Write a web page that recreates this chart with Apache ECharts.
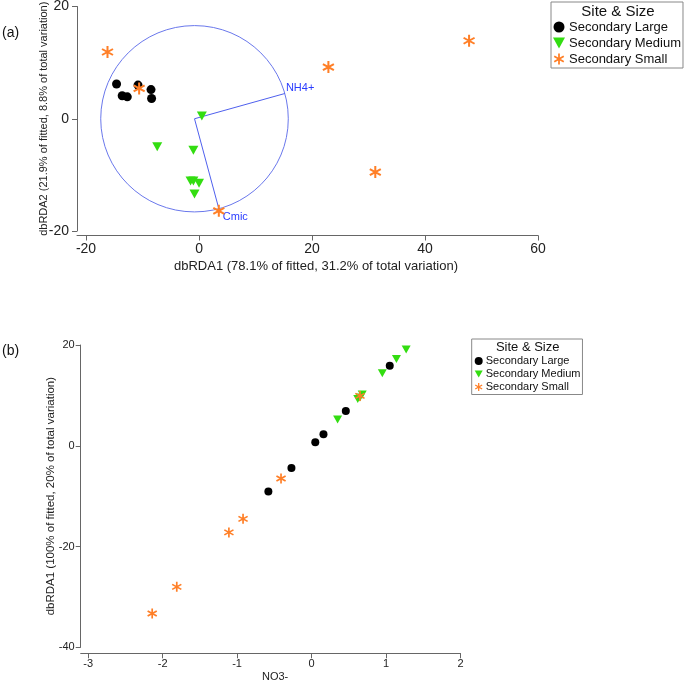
<!DOCTYPE html>
<html>
<head>
<meta charset="utf-8">
<script src="https://cdn.jsdelivr.net/npm/echarts@6/dist/echarts.min.js"></script>
<style>
html,body{margin:0;padding:0;background:#fff;}
#c{width:685px;height:681px;}
</style>
</head>
<body>
<div id="c"></div>
<script>
// ---------- data ----------
var seriesNames = ['Secondary Large', 'Secondary Medium', 'Secondary Small'];

// (a) dbRDA ordination
var aLarge  = [[-14.6, 6.2], [-13.6, 4.1], [-12.7, 3.9], [-10.8, 6.0], [-8.5, 5.2], [-8.4, 3.6]];
var aMedium = [[0.5, 0.5], [-7.4, -5.0], [-1.0, -5.6], [-1.5, -11.1], [-1.0, -11.1], [0.0, -11.5], [-0.8, -13.4]];
var aSmall  = [[-16.2, 11.9], [-10.6, 5.4], [22.9, 9.2], [47.8, 13.9], [31.2, -9.5], [3.5, -16.4]];
var circleCenter = [-0.8, 0];
var circleRadius = 16.6;
var vectorNames = ['NH4+', 'Cmic'];
var vectorEnds = [[15.2, 4.5], [3.5, -16.0]];
var aXTicks = [-20, 0, 20, 40, 60];

// (b) dbRDA1 vs NO3-
var bLarge  = [[-0.58, -9.1], [-0.27, -4.4], [0.05, 0.7], [0.16, 2.3], [0.46, 6.9], [1.05, 15.9]];
var bMedium = [[0.35, 5.2], [0.62, 9.3], [0.68, 10.2], [0.95, 14.4], [1.14, 17.2], [1.27, 19.1], [0.65, 9.6]];
var bSmall  = [[-2.14, -33.3], [-1.81, -28.0], [-1.11, -17.2], [-0.92, -14.5], [-0.41, -6.5], [0.65, 9.9]];
var bXTicks = [-3, -2, -1, 0, 1, 2];

// ---------- styles ----------
var FONT = 'Liberation Sans, Arial, sans-serif';
var cBlack = '#000000', cGreen = '#33dd11', cOrange = '#ff7f27';
var triDown = 'path://M0,0 L100,0 L50,90 Z';
var star = 'path://M42,0 L58,0 L58,100 L42,100 Z M10.7,18.07 L97.3,68.07 L89.3,81.93 L2.7,31.93 Z M2.7,68.07 L89.3,18.07 L97.3,31.93 L10.7,81.93 Z';
var axisCol = '#666';
var labelCol = '#222';

function mkX(idx, min, max, ticks, name, fs, nameGap, nameFs, offset, margin, padL) {
  return {
    type: 'value', gridIndex: idx, min: min, max: max, offset: offset,
    name: name, nameLocation: 'middle', nameGap: nameGap, nameMoveOverlap: false,
    nameTextStyle: {fontFamily: FONT, fontSize: nameFs, color: labelCol, padding: [0, 0, 0, padL]},
    axisLine: {show: true, onZero: false, lineStyle: {color: axisCol, width: 1}},
    axisTick: {show: true, length: 5, customValues: ticks, lineStyle: {color: axisCol}},
    axisLabel: {customValues: ticks, fontFamily: FONT, fontSize: fs, color: labelCol, margin: margin},
    splitLine: {show: false}
  };
}
function mkY(idx, min, max, interval, name, fs, nameGap, nameFs, margin) {
  return {
    type: 'value', gridIndex: idx, min: min, max: max, interval: interval,
    name: name, nameLocation: 'middle', nameGap: nameGap, nameMoveOverlap: false,
    nameTextStyle: {fontFamily: FONT, fontSize: nameFs, color: labelCol},
    axisLine: {show: true, onZero: false, lineStyle: {color: axisCol, width: 1}},
    axisTick: {show: true, length: 5, lineStyle: {color: axisCol}},
    axisLabel: {fontFamily: FONT, fontSize: fs, color: labelCol, margin: margin},
    splitLine: {show: false}
  };
}
function scatter(name, data, gi, symbol, size, color) {
  return {
    name: name, type: 'scatter', xAxisIndex: gi, yAxisIndex: gi,
    data: data, symbol: symbol, symbolSize: size,
    itemStyle: {color: color, opacity: 1}, z: 5
  };
}

var chart = echarts.init(document.getElementById('c'), null, {renderer: 'canvas'});

var option = {
  backgroundColor: '#fff',
  animation: false,
  grid: [
    {left: 77, right: 147, top: 6.5, bottom: 450, outerBoundsMode: 'none', containLabel: false},
    {left: 80.7, right: 224.5, top: 345, bottom: 33.7, outerBoundsMode: 'none', containLabel: false}
  ],
  xAxis: [
    mkX(0, -21.6, 60, aXTicks, 'dbRDA1 (78.1% of fitted, 31.2% of total variation)', 14, 24, 13, 4.5, 7, 17),
    mkX(1, -3.1, 2, bXTicks, 'NO3-', 11, 18, 11, 6, 5, 9)
  ],
  yAxis: [
    mkY(0, -20, 20, 20, 'dbRDA2 (21.9% of fitted, 8.8% of total variation)', 14, 28, 11, 8),
    mkY(1, -40, 20, 20, 'dbRDA1 (100% of fitted, 20% of total variation)', 11, 24, 11.5, 6)
  ],
  legend: [
    {
      left: 551, top: 2, orient: 'vertical',
      padding: [17, 2, 1, 2], itemGap: 0, itemWidth: 12, itemHeight: 11,
      borderColor: '#888', borderWidth: 1, backgroundColor: '#fff',
      textStyle: {fontFamily: FONT, fontSize: 13, color: '#111', lineHeight: 16, padding: [0, 0, 0, -1]},
      selectedMode: false,
      data: [
        {name: seriesNames[0], icon: 'circle'},
        {name: seriesNames[1], icon: triDown},
        {name: seriesNames[2], icon: star}
      ]
    },
    {
      left: 471.7, top: 339, orient: 'vertical',
      padding: [15.5, 2, 1, 3], itemGap: 0, itemWidth: 8, itemHeight: 8,
      borderColor: '#888', borderWidth: 1, backgroundColor: '#fff',
      textStyle: {fontFamily: FONT, fontSize: 11, color: '#111', lineHeight: 13, padding: [0, 0, 0, -2]},
      selectedMode: false,
      data: [
        {name: seriesNames[0], icon: 'circle'},
        {name: seriesNames[1], icon: triDown},
        {name: seriesNames[2], icon: star}
      ]
    }
  ],
  graphic: [
    {type: 'text', left: 2, top: 26, style: {text: '(a)', font: '14px ' + FONT, fill: '#111'}},
    {type: 'text', left: 2, top: 344, style: {text: '(b)', font: '14px ' + FONT, fill: '#111'}},
    {type: 'text', x: 618, y: 12, style: {text: 'Site & Size', font: '15px ' + FONT, fill: '#111', align: 'center', verticalAlign: 'middle'}, z: 100},
    {type: 'text', x: 527.7, y: 347, style: {text: 'Site & Size', font: '13px ' + FONT, fill: '#111', align: 'center', verticalAlign: 'middle'}, z: 100}
  ],
  series: [
    {
      type: 'custom', xAxisIndex: 0, yAxisIndex: 0, z: 1, silent: true,
      data: [[circleCenter[0], circleCenter[1], circleRadius]],
      renderItem: function (params, api) {
        var c = api.coord([api.value(0), api.value(1)]);
        var s = api.size([api.value(2), api.value(2)]);
        return {
          type: 'ellipse',
          shape: {cx: c[0], cy: c[1], rx: s[0], ry: s[1]},
          style: {fill: 'none', stroke: '#6a78ec', lineWidth: 1}
        };
      }
    },
    {
      type: 'custom', xAxisIndex: 0, yAxisIndex: 0, z: 2, silent: true,
      data: vectorEnds.map(function (e, i) { return [e[0], e[1], i]; }),
      renderItem: function (params, api) {
        var o = api.coord(circleCenter);
        var e = api.coord([api.value(0), api.value(1)]);
        var i = api.value(2);
        var dx = i === 0 ? 1 : 4, dy = i === 0 ? -6 : 8;
        return {
          type: 'group',
          children: [
            {type: 'line', shape: {x1: o[0], y1: o[1], x2: e[0], y2: e[1]},
             style: {stroke: '#4f60ee', lineWidth: 1}},
            {type: 'text', x: e[0] + dx, y: e[1] + dy,
             style: {text: vectorNames[i], font: '11px ' + FONT, fill: '#2a3cff', align: 'left', verticalAlign: 'middle'}}
          ]
        };
      }
    },
    scatter(seriesNames[0], aLarge, 0, 'circle', 9, cBlack),
    scatter(seriesNames[1], aMedium, 0, triDown, [10, 9], cGreen),
    scatter(seriesNames[2], aSmall, 0, star, 12, cOrange),
    scatter(seriesNames[0], bLarge, 1, 'circle', 8, cBlack),
    scatter(seriesNames[1], bMedium, 1, triDown, [9, 8], cGreen),
    scatter(seriesNames[2], bSmall, 1, star, 10, cOrange)
  ]
};
chart.setOption(option);
</script>
</body>
</html>
